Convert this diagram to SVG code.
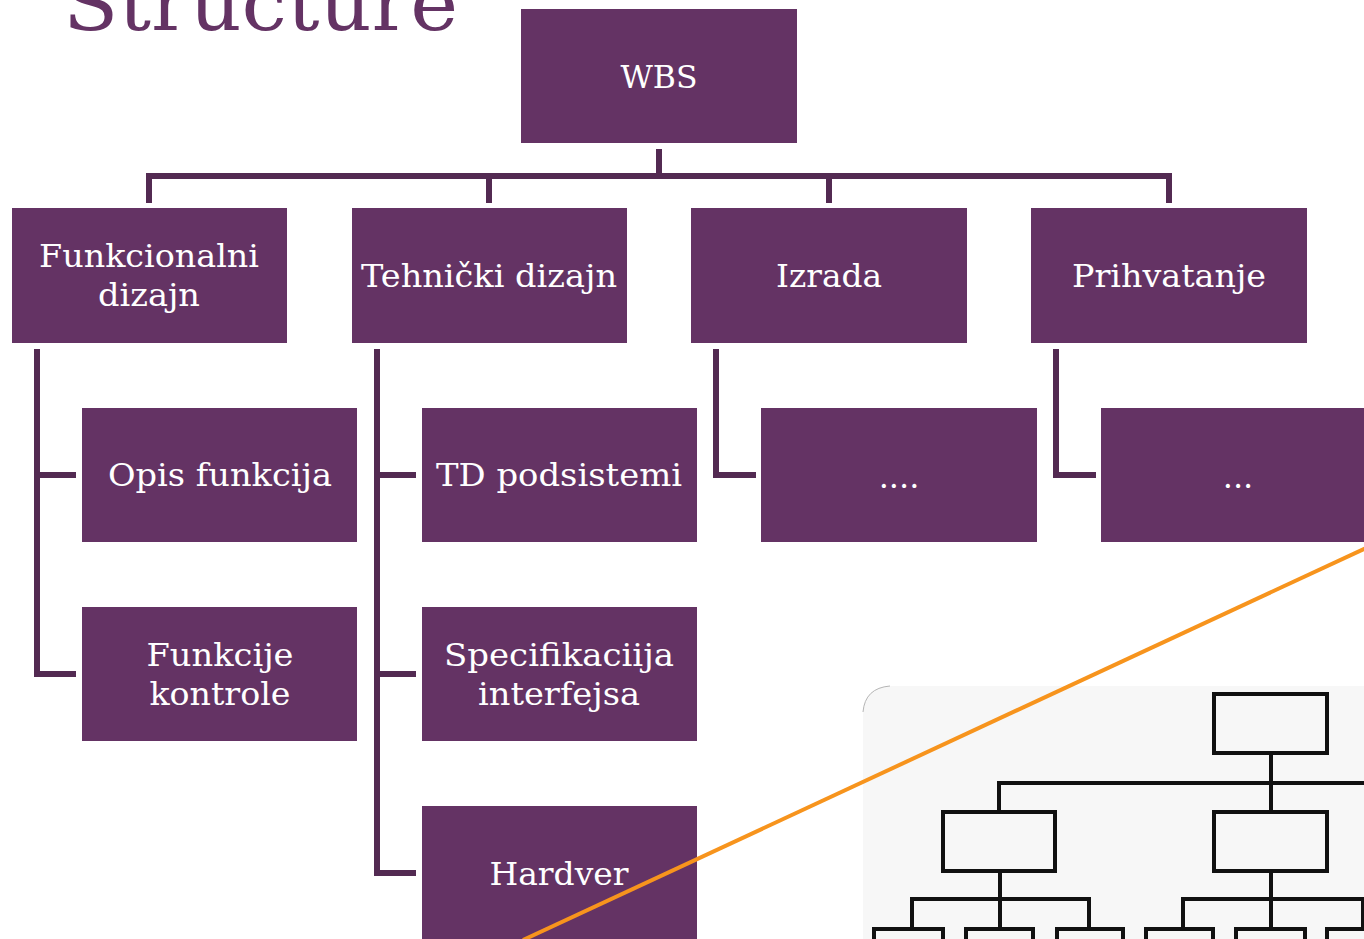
<svg xmlns="http://www.w3.org/2000/svg" width="1364" height="939" viewBox="0 0 1364 939">
<style>
.box{fill:#643364}
.lbl{font-family:"DejaVu Serif","Liberation Serif",serif;font-size:32px;fill:#ffffff;text-anchor:middle}
.conn{fill:none;stroke:#532a52;stroke-width:6;stroke-linejoin:miter;stroke-linecap:butt}
.pic{fill:none;stroke:#111111;stroke-width:4}
</style>
<rect width="1364" height="939" fill="#ffffff"/>
<text x="63" y="30" font-family="DejaVu Serif, Liberation Serif, serif" font-size="76" fill="#643364" textLength="395" lengthAdjust="spacingAndGlyphs">Structure</text>

<g id="connectors">
<path class="conn" d="M659,149 V176 M149,203 V176 H1169 V203 M489,176 V203 M829,176 V203"/>
<path class="conn" d="M37,349 V674 H76 M37,475 H76"/>
<path class="conn" d="M377,349 V873 H416 M377,475 H416 M377,674 H416"/>
<path class="conn" d="M716,349 V475 H756"/>
<path class="conn" d="M1056,349 V475 H1096"/>
</g>

<g id="wbs"><rect class="box" x="521" y="9" width="276" height="134"/><text class="lbl" x="659" y="88" textLength="77" lengthAdjust="spacingAndGlyphs">WBS</text></g>

<g id="funkcionalni"><rect class="box" x="12" y="208" width="275" height="135"/><text class="lbl" x="149" y="267" textLength="220" lengthAdjust="spacingAndGlyphs">Funkcionalni</text><text class="lbl" x="149" y="306" textLength="102" lengthAdjust="spacingAndGlyphs">dizajn</text></g>
<g id="tehnicki"><rect class="box" x="352" y="208" width="275" height="135"/><text class="lbl" x="489" y="287" textLength="256" lengthAdjust="spacingAndGlyphs">Tehnički dizajn</text></g>
<g id="izrada"><rect class="box" x="691" y="208" width="276" height="135"/><text class="lbl" x="829" y="287" textLength="106" lengthAdjust="spacingAndGlyphs">Izrada</text></g>
<g id="prihvatanje"><rect class="box" x="1031" y="208" width="276" height="135"/><text class="lbl" x="1169" y="287" textLength="194" lengthAdjust="spacingAndGlyphs">Prihvatanje</text></g>

<g id="opis"><rect class="box" x="82" y="408" width="275" height="134"/><text class="lbl" x="220" y="486" textLength="224" lengthAdjust="spacingAndGlyphs">Opis funkcija</text></g>
<g id="kontrole"><rect class="box" x="82" y="607" width="275" height="134"/><text class="lbl" x="220" y="666" textLength="147" lengthAdjust="spacingAndGlyphs">Funkcije</text><text class="lbl" x="220" y="705" textLength="141" lengthAdjust="spacingAndGlyphs">kontrole</text></g>
<g id="tdpodsistemi"><rect class="box" x="422" y="408" width="275" height="134"/><text class="lbl" x="559" y="486" textLength="246" lengthAdjust="spacingAndGlyphs">TD podsistemi</text></g>
<g id="specifikacija"><rect class="box" x="422" y="607" width="275" height="134"/><text class="lbl" x="559" y="666" textLength="230" lengthAdjust="spacingAndGlyphs">Specifikaciija</text><text class="lbl" x="559" y="705" textLength="162" lengthAdjust="spacingAndGlyphs">interfejsa</text></g>
<g id="hardver"><rect class="box" x="422" y="806" width="275" height="140"/><text class="lbl" x="559" y="885" textLength="139" lengthAdjust="spacingAndGlyphs">Hardver</text></g>
<g id="izrada-child"><rect class="box" x="761" y="408" width="276" height="134"/><text class="lbl" x="899" y="488">....</text></g>
<g id="prihvatanje-child"><rect class="box" x="1101" y="408" width="270" height="134"/><text class="lbl" x="1238" y="488">...</text></g>

<g id="picture">
<path d="M863,939 V716 Q863,686 893,686 H1364 V939 Z" fill="#f7f7f7"/>
<path d="M863,712 Q865,688 890,686" fill="none" stroke="#b5b5b5" stroke-width="1"/>
<rect class="pic" x="1214" y="694" width="113" height="59"/>
<path class="pic" d="M1271,753 V812 M999,812 V783 H1368"/>
<rect class="pic" x="943" y="812" width="112" height="59"/>
<rect class="pic" x="1214" y="812" width="113" height="59"/>
<path class="pic" d="M1000,871 V929 M912,929 V899 H1089 V929 M1271,871 V929 M1183,929 V899 H1363 V929"/>
<path class="pic" d="M874,945 V929 H943 V945 M966,945 V929 H1033 V945 M1057,945 V929 H1123 V945 M1146,945 V929 H1213 V945 M1236,945 V929 H1305 V945 M1368,929 H1327 V945"/>
</g>

<line x1="523" y1="940" x2="1366" y2="548" stroke="#f7941d" stroke-width="4"/>
</svg>
